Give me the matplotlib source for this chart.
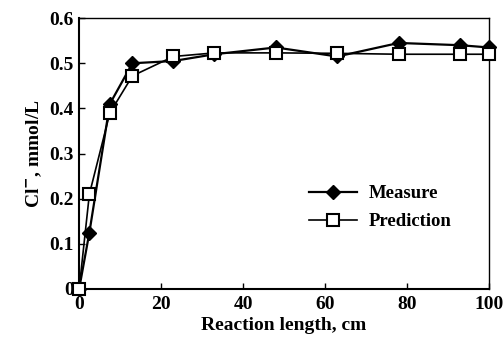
import matplotlib.pyplot as plt
from matplotlib.ticker import FuncFormatter

length = [0, 2.5, 7.5, 13, 23, 33, 48, 63, 78, 93, 100]
measure = [0, 0.125, 0.41, 0.50, 0.505, 0.52, 0.535, 0.515, 0.545, 0.54, 0.535]
prediction = [0, 0.21, 0.39, 0.472, 0.515, 0.523, 0.523, 0.522, 0.52, 0.52, 0.52]

plt.rcParams['font.family'] = 'Liberation Serif'
plt.rcParams['font.weight'] = 'bold'

fig = plt.figure(figsize=(5.04, 3.42), dpi=100)
ax = fig.add_axes([0.157, 0.155, 0.813, 0.792])

ax.plot(length, measure, marker='D', markersize=7, color='black', linewidth=1.6,
        markerfacecolor='black', label='Measure', clip_on=False, zorder=3)
ax.plot(length, prediction, marker='s', markersize=9, color='black', linewidth=1.2,
        markerfacecolor='white', markeredgewidth=1.5, label='Prediction',
        clip_on=False, zorder=4)

ax.set_xlim(0, 100)
ax.set_ylim(0, 0.6)
ax.set_xticks([0, 20, 40, 60, 80, 100])
ax.set_yticks([0, 0.1, 0.2, 0.3, 0.4, 0.5, 0.6])
ax.yaxis.set_major_formatter(FuncFormatter(lambda v, p: '0' if v == 0 else f'{v:.1f}'))
ax.tick_params(direction='in', labelsize=14, length=4, width=1)
ax.tick_params(axis='y', pad=4)
ax.tick_params(axis='x', pad=5)
for lab in ax.get_xticklabels() + ax.get_yticklabels():
    lab.set_fontweight('bold')

for s in ['left', 'bottom']:
    ax.spines[s].set_linewidth(1.5)
for s in ['top', 'right']:
    ax.spines[s].set_linewidth(1.0)

ax.set_xlabel('Reaction length, cm', fontsize=14, fontweight='bold', labelpad=3)
ax.set_ylabel('Cl$^{-}$, mmol/L', fontsize=14, fontweight='bold', labelpad=4)

ax.legend(loc='center right', bbox_to_anchor=(0.95, 0.30), frameon=False, fontsize=13.5,
          handlelength=2.6, labelspacing=0.6, handletextpad=0.6)

plt.savefig('out.png', dpi=100)
